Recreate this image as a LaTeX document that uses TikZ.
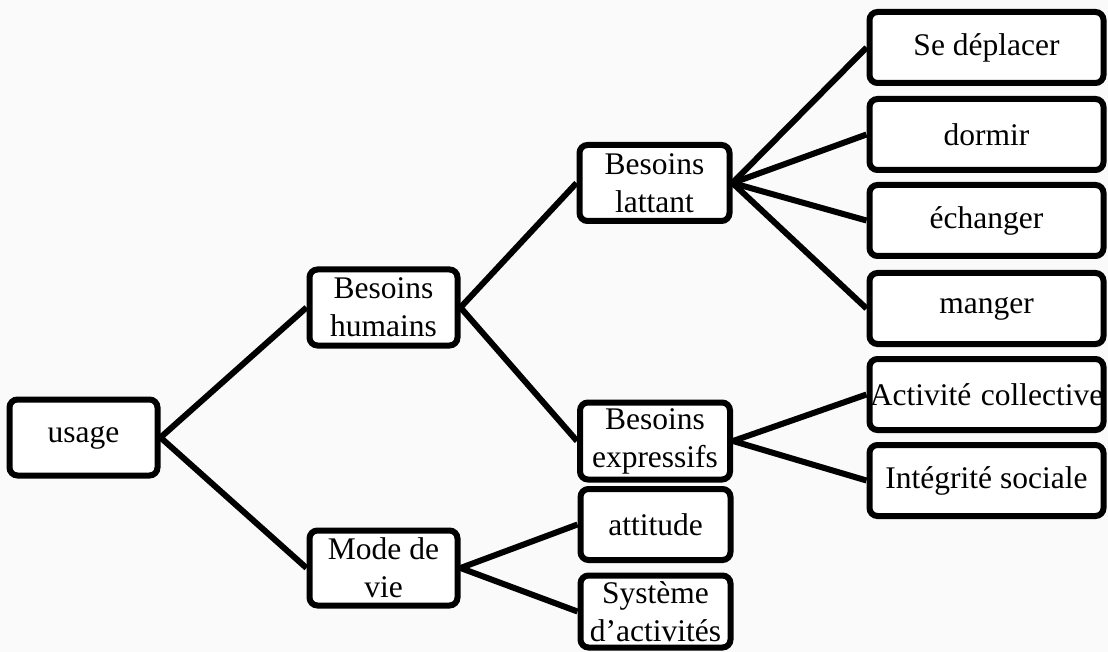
\documentclass[tikz,border=0pt]{standalone}
\usepackage{fontspec}
\setmainfont{Liberation Serif}
\definecolor{paper}{RGB}{250,250,250}
\begin{document}
\begin{tikzpicture}[x=1pt,y=-1pt,
  box/.style={draw=black, fill=white, line width=6pt, rounded corners=8pt,
    inner sep=0pt, align=center, minimum width=#1,
    font=\fontsize{31.5}{38}\selectfont},
  box/.default=150pt,
  link/.style={line width=6pt}]
  % page background
  \fill[paper] (0,0) rectangle (1108,652);
  \useasboundingbox (0,0) rectangle (1108,652);

  % root and first level
  \node[box=148pt, minimum height=76pt] (usage) at (83.5,437.5) {usage};
  \node[box=148pt, minimum height=76pt] (hum) at (383.5,307.5) {Besoins\\humains};
  \node[box=148pt, minimum height=75pt] (mode) at (383.5,568) {Mode de\\vie};

  % second level
  \node[box, minimum height=76pt] (lat) at (654.5,183) {Besoins\\lattant};
  \node[box, minimum height=77pt] (exp) at (655,441) {Besoins\\expressifs};
  \node[box, minimum height=71pt] (att) at (655.5,524.5) {attitude};
  \node[box, minimum height=72pt] (sys) at (655.5,611.5) {Système\\d’activités};

  % leaves
  \node[box=234pt, minimum height=71pt] (dep) at (986.5,47.5) {Se déplacer};
  \node[box=234pt, minimum height=71pt] (dor) at (986.5,134.5) {dormir};
  \node[box=234pt, minimum height=71pt] (ech) at (986.5,220.5) {échanger};
  \node[box=234pt, minimum height=71pt] (man) at (986.5,308.5) {manger};
  \node[box=234pt, minimum height=71pt] (act) at (986.5,394.5) {Activité\hspace{0.3em}collective};
  \node[box=234pt, minimum height=71pt] (int) at (986.5,480.5) {Intégrité sociale};

  % connectors
  \begin{scope}[link]
    \draw (usage.east) -- (hum.west);
    \draw (usage.east) -- (mode.west);
    \draw (hum.east) -- (lat.west);
    \draw (hum.east) -- (exp.west);
    \draw (mode.east) -- (att.west);
    \draw (mode.east) -- (sys.west);
    \draw (lat.east) -- (dep.west);
    \draw (lat.east) -- (dor.west);
    \draw (lat.east) -- (ech.west);
    \draw (lat.east) -- (man.west);
    \draw (exp.east) -- (act.west);
    \draw (exp.east) -- (int.west);
  \end{scope}
\end{tikzpicture}
\end{document}
